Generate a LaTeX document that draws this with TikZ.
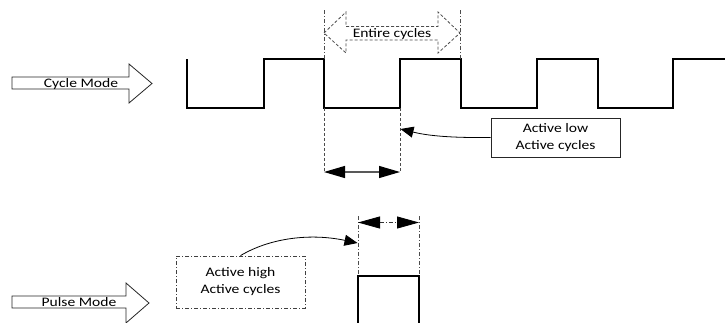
\documentclass[tikz,border=0pt]{standalone}
\usepackage{fontspec}
\setmainfont{Carlito}[FakeStretch=1.2]
\usetikzlibrary{arrows.meta}
\begin{document}
\begin{tikzpicture}[x=1pt,y=-1pt,
  wave/.style={line width=1.8pt, line join=miter},
  dashdot/.style={black!70, line width=0.8pt, dash pattern=on 4pt off 2pt on 1pt off 2pt},
  dashline/.style={black!70, line width=0.8pt, dash pattern=on 3pt off 2pt},
  blockarrow/.style={draw=black!85, line width=0.8pt, fill=white},
  lbl/.style={font=\fontsize{13}{17}\selectfont, inner sep=0pt},
  bigtips/.style={{Triangle[length=21pt,width=12pt,color=black]}-{Triangle[length=21pt,width=12pt,color=black]}},
  calltip/.style={-{Triangle[length=13pt,width=11pt]}, line width=0.8pt},
  callbox/.style={draw=black!85, line width=0.8pt, minimum width=129pt, align=center, font=\fontsize{13}{17}\selectfont, inner sep=0pt}
]
\useasboundingbox (0,0) rectangle (725,322);

% ---- Cycle mode block arrow
\draw[blockarrow] (12,77) -- (129,77) -- (129,64) -- (152,83.5) -- (129,103) -- (129,89) -- (12,89) -- cycle;
\node[lbl, anchor=base] (cyclemode) at (81,87.5) {Cycle Mode};

% ---- square wave
\coordinate (w0) at (187,59);
\coordinate (r1) at (264,108);
\coordinate (f1) at (324,59);
\coordinate (r2) at (400,108);
\coordinate (f2) at (461,59);
\draw[wave] (w0) -- (187,108) -- (r1) -- (264,59) -- (f1) -- (324,108) -- (r2) -- (400,59) -- (f2) -- (461,108)
  -- (537,108) -- (537,59) -- (598,59) -- (598,108) -- (673,108) -- (673,59) -- (726,59);

% ---- entire cycles
\coordinate (g1t) at (324,10);
\coordinate (g2t) at (460,10);
\draw[dashdot] (g1t) -- (f1);
\draw[dashdot] (g2t) -- (460,59);
\draw[dashline, fill=white] (324,33) -- (346,12) -- (346,26.5) -- (438,26.5) -- (438,12) -- (460,33)
  -- (438,53) -- (438,40) -- (346,40) -- (346,53) -- cycle;
\node[lbl, anchor=base] (entire) at (392,37.5) {Entire cycles};

% ---- active low
\coordinate (g3b) at (324,172);
\coordinate (g4b) at (400,172);
\draw[dashline] (324,108) -- (g3b);
\draw[dashline] (r2) -- (g4b);
\draw[bigtips, black!65, line width=1.2pt] (g3b) -- (g4b);

\node[callbox, minimum height=39pt] (lowbox) at (555.5,137.5) {Active low\\Active cycles};
\coordinate (lowtip) at (400.5,129);
\draw[calltip] (lowbox.west) .. controls (445,138) and (425,135) .. (lowtip);

% ---- pulse mode block arrow
\draw[blockarrow] (12,296) -- (126,296) -- (126,283) -- (149,303) -- (126,323) -- (126,308) -- (12,308) -- cycle;
\node[lbl, anchor=base] (pulsemode) at (79,306.5) {Pulse Mode};

% ---- pulse
\coordinate (p1) at (358,276);
\coordinate (p2) at (419,276);
\draw[wave] (358,325) -- (p1) -- (p2) -- (419,325);
\coordinate (p1t) at (358,216);
\coordinate (p2t) at (419,216);
\draw[dashdot] (p1t) -- (p1);
\draw[dashdot] (p2t) -- (p2);
\coordinate (pa1) at (358,222.5);
\coordinate (pa2) at (419,222.5);
\draw[{Triangle[length=22pt,width=12pt,color=black]}-{Triangle[length=22pt,width=12pt,color=black]}, dashdot, black!80] (pa1) -- (pa2);

\node[callbox, draw=black!75, dash pattern=on 4pt off 2pt on 1pt off 2pt, minimum height=52pt] (highbox) at (240.5,282) {Active high\\Active cycles};
\coordinate (hightip) at (357.5,243);
\draw[calltip] (highbox.north) .. controls (270,238) and (310,233) .. (hightip);
\end{tikzpicture}
\end{document}
